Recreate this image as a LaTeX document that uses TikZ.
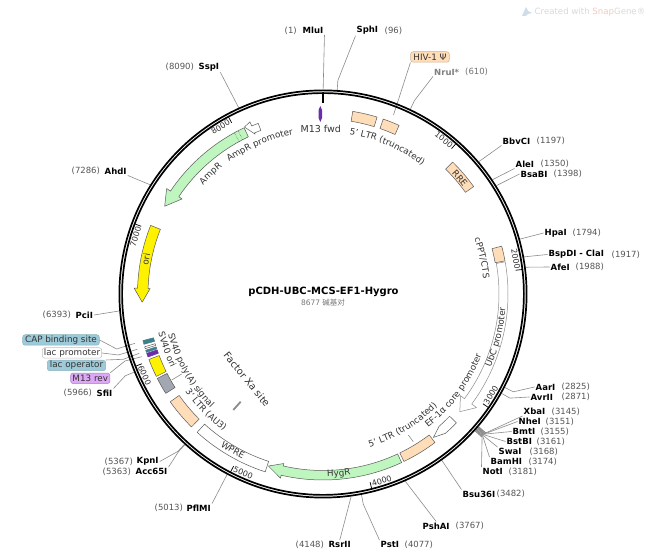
\documentclass[tikz,border=0pt]{standalone}
\usepackage{fontspec}
\setmainfont{DejaVu Sans}
\newfontfamily\cjkf{Noto Sans CJK SC}
\usetikzlibrary{decorations.text}
\definecolor{peach}{HTML}{FFDDB8}
\definecolor{mint}{HTML}{BFF5BF}
\definecolor{teal1}{HTML}{9CCAD8}
\definecolor{teal2}{HTML}{3F7F8C}
\definecolor{purp1}{HTML}{DDA8F5}
\definecolor{purp2}{HTML}{6A2FA8}
\definecolor{lblc}{HTML}{333333}
\definecolor{numc}{HTML}{555555}
\definecolor{leadc}{HTML}{8C8C8C}
\definecolor{edgec}{HTML}{5A5A5A}
\definecolor{grayf}{HTML}{A3A7B2}
\definecolor{wmblue}{HTML}{CFDDEA}
\definecolor{wmgray}{HTML}{D9D9D9}
\definecolor{wmpink}{HTML}{F2C9C2}
\newcommand\fsz[1]{\fontsize{#1}{#1}\selectfont}
\tikzset{
  enz/.style={font=\fsz{8.5}\bfseries,text=black,inner sep=1pt},
  num/.style={font=\fsz{8.5},text=numc,inner sep=1pt},
  lead/.style={draw=leadc,line width=0.6pt},
  feat/.style={draw=edgec,line width=0.5pt,line join=round},
  flab/.style={rounded corners=2.5pt,line width=0.5pt,font=\fsz{8.8},text=lblc,inner sep=0pt,minimum height=10.5pt},
  tag/.style={font=\fsz{8.8},text=lblc,inner sep=0pt},
  ticklab/.style={font=\fsz{8},text=lblc,inner sep=0pt}
}
% a1 a2 rin rout, angles clockwise from the top
\newcommand\featbox[5][]{\path[feat,#1] (90-#2:#5) arc[start angle=90-#2,end angle=90-#3,radius=#5] -- (90-#3:#4) arc[start angle=90-#3,end angle=90-#2,radius=#4] -- cycle;}
% a1 a2 tip rin rout rbarbin rbarbout rtip
\newcommand\featarrow[9][]{\path[feat,#1] (90-#2:#6) arc[start angle=90-#2,end angle=90-#3,radius=#6] -- (90-#3:#8) -- (90-#4:#9) -- (90-#3:#7) -- (90-#3:#5) arc[start angle=90-#3,end angle=90-#2,radius=#5] -- cycle;}
\newcommand\cwtext[4][8.8]{\path[decorate,decoration={text along path,text align=center,text={|\fsz{#1}\color{lblc}|#4}}] (90-#2+40:#3) arc[start angle=90-#2+40,end angle=90-#2-40,radius=#3];}
\newcommand\ccwtext[4][8.8]{\path[decorate,decoration={text along path,text align=center,text={|\fsz{#1}\color{lblc}|#4}}] (90-#2-40:#3) arc[start angle=90-#2-40,end angle=90-#2+40,radius=#3];}
\newcommand\site[6]{\node[enz,anchor=west] (#1) at (#2-1.5,556-#4) {#5};\node[num,anchor=west] (#1n) at (#3-1.5,556-#4) {(#6)};}
\newcommand\ringpt[2]{\pgfmathsetmacro\tmpa{90-0.0414890*#2}\coordinate (e#1) at ([shift={(\tmpa:204.5)}]C);\coordinate (f#1) at ([shift={(\tmpa:214)}]C);}
\begin{document}
\begin{tikzpicture}[x=1pt,y=1pt]
\useasboundingbox (0,0) rectangle (649,556);
\fill[white] (0,0) rectangle (649,556);
\coordinate (C) at (323,262);
% watermark
\fill[wmblue] (522,556-16) -- (526,556-7) -- (528,556-11) -- (532,556-13) -- (528,556-14) -- (526,556-16) -- cycle;
\node[anchor=west,inner sep=0pt,font=\fsz{8.6}] (wm) at (534.5,556-12) {\textcolor{wmgray}{Created with }\textcolor{wmpink}{Snap}\textcolor{wmgray}{Gene®}};
% enzyme labels
\site{MluI}{303}{285}{30.5}{MluI}{1}
\site{SphI}{357}{385}{30.5}{SphI}{96}
\site{SspI}{199}{166}{67}{SspI}{8090}
\site{AhdI}{105}{72}{171}{AhdI}{7286}
\site{PciI}{76}{43}{315}{PciI}{6393}
\site{SfiI}{97}{64}{393}{SfiI}{5966}
\site{BbvCI}{503}{537}{141}{BbvCI}{1197}
\site{AleI}{516}{541}{164}{AleI}{1350}
\site{BsaBI}{521}{554}{174}{BsaBI}{1398}
\site{HpaI}{545}{573}{233}{HpaI}{1794}
\site{BspDI}{549}{612}{254.5}{BspDI - ClaI}{1917}
\site{AfeI}{551}{576}{267}{AfeI}{1988}
\site{AarI}{536}{562}{387}{AarI}{2825}
\site{AvrII}{531}{562}{397}{AvrII}{2871}
\site{XbaI}{524}{552}{411.5}{XbaI}{3145}
\site{NheI}{519}{546}{421.5}{NheI}{3151}
\site{BmtI}{513}{541}{431.5}{BmtI}{3155}
\site{BstBI}{507}{537}{441.5}{BstBI}{3161}
\site{SwaI}{499}{530}{451.5}{SwaI}{3168}
\site{BamHI}{491}{529}{461.5}{BamHI}{3174}
\site{NotI}{483}{509}{471.5}{NotI}{3181}
\site{Bsu}{463}{497}{494}{Bsu36I}{3482}
\site{PshAI}{423}{456}{526}{PshAI}{3767}
\site{PstI}{381}{405}{544.5}{PstI}{4077}
\site{RsrII}{329}{296}{544.5}{RsrII}{4148}
\site{PflMI}{187}{155}{508}{PflMI}{5013}
\site{KpnI}{137}{105}{461.5}{KpnI}{5367}
\site{Acc}{136}{103}{471.5}{Acc65I}{5363}
\node[enz,anchor=west,text=gray] (NruI) at (433,556-72) {NruI*};
\node[num,anchor=west,text=gray!90!black] (NruIn) at (464,556-72) {(610)};
% feature tags
\node[flab,draw=peach!80!black,fill=peach,minimum width=38.6pt] (hiv) at (430,556-57) {HIV-1 Ψ};
\node[flab,draw=teal2!60,fill=teal1,minimum width=76.6pt] (cap) at (61,556-340) {CAP binding site};
\node[flab,draw=black!25,fill=white,minimum width=59.4pt] (lacp) at (72,556-353) {lac promoter};
\node[flab,draw=teal2!60,fill=teal1,minimum width=58.4pt] (laco) at (76.5,556-365.5) {lac operator};
\node[flab,draw=purp2!60,fill=purp1,minimum width=39.3pt] (mrev) at (90.3,556-378.3) {M13 rev};
% ring points
\foreach \i/\b in {MluI/1,SphI/96,SspI/8090,AhdI/7286,PciI/6393,SfiI/5966,BbvCI/1197,AleI/1350,BsaBI/1398,HpaI/1794,BspDI/1917,AfeI/1988,AarI/2825,AvrII/2871,XbaI/3145,NheI/3151,BmtI/3155,BstBI/3161,SwaI/3168,BamHI/3174,NotI/3181,Bsu/3482,PshAI/3767,PstI/4077,RsrII/4148,PflMI/5013,KpnI/5367,Acc/5363,NruI/610}{\ringpt{\i}{\b}}
\coordinate (hivend) at (393.5,556-115);
\coordinate (capend) at (135,556-343.3);
\coordinate (lacpend) at (137.3,556-349.3);
\coordinate (lacoend) at (139.3,556-353.3);
\coordinate (mrevend) at (141.7,556-356.7);
\coordinate (capel) at (116.7,556-349);
\coordinate (lacpel) at (118.3,556-355);
\coordinate (lacoel) at (123.3,556-359.3);
\coordinate (mrevel) at (125,556-361);
\coordinate (polyA1) at (171.7,556-380);
\coordinate (polyA2) at (181.7,556-374);
\coordinate (ltrA) at (408.3,556-435);
\coordinate (ltrB) at (413.3,556-441.7);
% connectors
\draw[lead] (MluI.south east) -- (eMluI);
\draw[lead] (SphI.south west) -- (fSphI) -- (eSphI);
\draw[lead] (SspI.south east) -- (eSspI);
\draw[lead] (AhdI.south east) -- (eAhdI);
\draw[lead] (PciI.east) -- (ePciI);
\draw[lead] (SfiI.north east) -- (fSfiI) -- (eSfiI);
\draw[lead] (BbvCI.south west) -- (eBbvCI);
\draw[lead] (AleI.south west) -- (eAleI);
\draw[lead] (BsaBI.west) -- (eBsaBI);
\draw[lead] (HpaI.west) -- (eHpaI);
\draw[lead] (BspDI.west) -- (eBspDI);
\draw[lead] (AfeI.west) -- (eAfeI);
\draw[lead] (AarI.west) -- (fAarI) -- (eAarI);
\draw[lead] (AvrII.west) -- (fAvrII) -- (eAvrII);
\foreach \i in {XbaI,NheI,BmtI,BstBI,SwaI,BamHI,NotI}{\draw[leadc,line width=1pt] (e\i) -- (f\i);}
\draw[lead] (XbaI.south west) -- (fXbaI);
\draw[lead] (NheI.west) -- (fNheI);
\draw[lead] (BmtI.west) -- (fBmtI);
\draw[lead] (BstBI.west) -- (fBstBI);
\draw[lead] (SwaI.north west) -- (fSwaI);
\draw[lead] (BamHI.north west) -- (fBamHI);
\draw[lead] (NotI.north west) -- (fNotI);
\draw[lead] (Bsu.north west) -- (eBsu);
\draw[lead] (PshAI.north) -- (ePshAI);
\draw[lead] (PstI.north west) -- (fPstI) -- (ePstI);
\draw[lead] (RsrII.north) -- (eRsrII);
\draw[lead] (PflMI.north east) -- (ePflMI);
\draw[lead] (KpnI.east) -- (fKpnI) -- (eKpnI);
\draw[lead] (Acc.north east) -- (fAcc) -- (eAcc);
\draw[lead] (NruI.south west) -- (fNruI) -- (eNruI);
\draw[lead] (hiv.south west) -- (hivend);
\draw[lead] (cap.east) -- (capel) -- (capend);
\draw[lead] (lacp.east) -- (lacpel) -- (lacpend);
\draw[lead] (laco.north east) -- (lacoel) -- (lacoend);
\draw[lead] (mrev.north east) -- (mrevel) -- (mrevend);
\draw[lead] (polyA1) -- (polyA2);
\draw[lead] (ltrA) -- (ltrB);
% ring
\begin{scope}[shift={(C)}]
\draw[black,line width=1.7pt] (0,0) circle[radius=203.6];
\draw[black,line width=1.7pt] (0,0) circle[radius=200.9];
\draw[black,line width=2pt] (90:201) -- (90:191);
\foreach \b in {1000,2000,...,8000}{
  \pgfmathsetmacro\ta{0.0414890*\b}
  \pgfmathsetmacro\tb{\ta-3.4}
  \pgfmathsetmacro\rot{(\tb<90||\tb>270)?(-\tb):(180-\tb)}
  \draw[black,line width=0.7pt] (90-\ta:201) -- (90-\ta:194);
  \node[ticklab,rotate=\rot] (t\b) at (90-\tb:196) {\b};
}
% features
\featbox[fill=peach]{9.25}{17}{175}{185}
\featbox[fill=peach]{19}{24.3}{175}{185}
\featbox[fill=peach]{44.5}{54.5}{175}{185}
\featbox[fill=peach]{75}{79.7}{175}{185}
\featarrow[fill=white,draw=leadc]{80}{126.5}{130.7}{176}{185}{171}{191}{180.5}
\featarrow[fill=white,draw=edgec]{134}{138.7}{142.4}{176}{185.5}{176}{185.5}{181}
\featbox[fill=peach]{143}{154.2}{176.5}{186}
\featarrow[fill=mint]{155}{193}{197.6}{176.5}{186}{174}{189}{180.5}
\featbox[fill=white]{-137.7}{-162}{176}{187}
\featbox[fill=peach]{-125.2}{-135.3}{176}{187}
\featbox[fill=grayf]{-117}{-122.3}{175}{186}
\featbox[fill=yellow]{-110.6}{-116.3}{175}{186}
\featbox[fill=purp2,draw=purp2]{-108.6}{-109.8}{175}{186}
\featbox[fill=teal2,draw=teal2]{-107.6}{-108.3}{175}{186}
\featbox[fill=white]{-106.5}{-107.1}{175}{186}
\featbox[fill=teal2,draw=teal2]{-104.5}{-105.7}{175}{186}
\featarrow[fill=yellow]{-68.3}{-88.2}{-92.6}{175}{185.5}{173}{189}{181}
\featarrow[fill=mint]{-25.4}{-56}{-61}{174}{184}{170}{188.6}{181}
\draw[edgec,densely dotted,line width=0.5pt] (90--27.5:174) -- (90--27.5:184);
\draw[edgec,densely dotted,line width=0.5pt] (90--28.8:174) -- (90--28.8:184);
\featarrow[fill=white]{-20.8}{-23}{-25.2}{175}{182.5}{173.6}{187}{184.5}
% along-arc texts
\cwtext{23.5}{162}{5' LTR (truncated)}
\cwtext{-23}{162}{AmpR promoter}
\cwtext{-43.1}{162}{AmpR}
\cwtext{-79}{177}{ori}
\cwtext{49.8}{176}{RRE}
\cwtext{77.3}{161}{cPPT/CTS}
\ccwtext{104}{183}{UbC promoter}
\ccwtext{126.5}{170}{EF-1α core promoter}
\ccwtext{148.7}{160}{5' LTR (truncated)}
\ccwtext{175}{183}{HygR}
\ccwtext{-150}{183.5}{WPRE}
\ccwtext{-134.7}{169}{3' LTR (AU3)}
\ccwtext{-120}{160}{SV40 poly(A) signal}
\ccwtext{-109.5}{169}{SV40 ori}
\end{scope}
% M13 fwd primer and Factor Xa site
\fill[purp2] (320.3,556-106) -- (322,556-110) -- (322,556-118) -- (320.3,556-122) -- (318.6,556-118) -- (318.6,556-110) -- cycle;
\node[tag,font=\fsz{9.5}] (m13f) at (320.7,556-129.3) {M13 fwd};
\draw[leadc,line width=1.8pt] (233.3,556-410) -- (240.7,556-401.7);
\node[tag,font=\fsz{9.8},rotate=-51] (fxa) at (247,556-379.5) {Factor Xa site};
% title
\node[font=\fsz{10}\bfseries,text=black,inner sep=0pt] (title) at (323.5,556-292) {pCDH-UBC-MCS-EF1-Hygro};
\node[font=\fsz{7.5},text=numc!80,inner sep=0pt] (len) at (323,556-302.5) {8677 {\cjkf 碱基对}};
\end{tikzpicture}
\end{document}
